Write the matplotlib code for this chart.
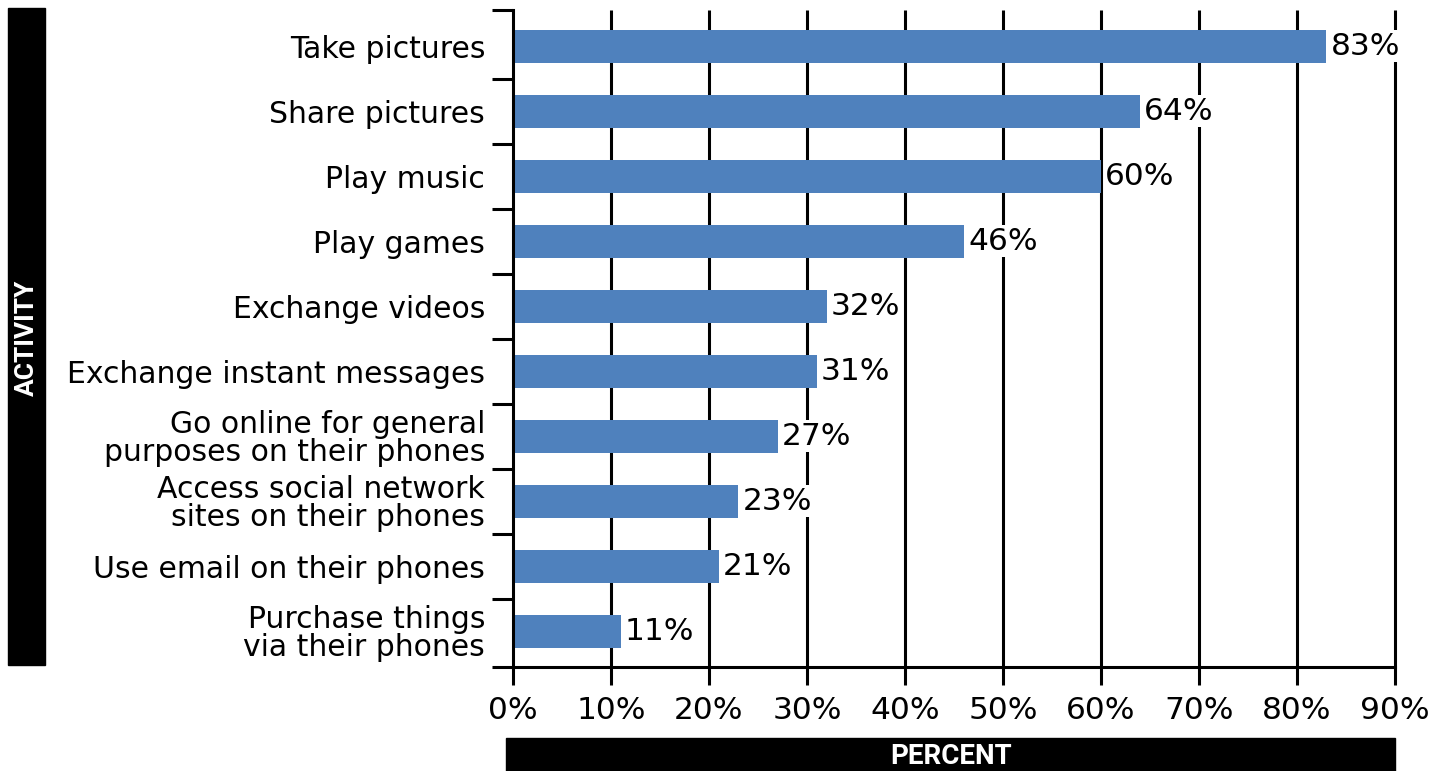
import matplotlib
matplotlib.use("Agg")
import matplotlib.pyplot as plt
from matplotlib.patches import Rectangle
from matplotlib.ticker import FixedLocator
import numpy as np

categories = [
    "Take pictures",
    "Share pictures",
    "Play music",
    "Play games",
    "Exchange videos",
    "Exchange instant messages",
    "Go online for general\npurposes on their phones",
    "Access social network\nsites on their phones",
    "Use email on their phones",
    "Purchase things\nvia their phones",
]
values = [83, 64, 60, 46, 32, 31, 27, 23, 21, 11]
x_ticks = [0, 10, 20, 30, 40, 50, 60, 70, 80, 90]
x_tick_labels = [f"{t}%" for t in x_ticks]

W, H = 1448, 771
fig = plt.figure(figsize=(W / 100, H / 100), dpi=100)
ax = fig.add_axes([513 / W, 1 - 667 / H, (1395 - 513) / W, (667 - 10) / H])

font = "DejaVu Sans"
fs_cat = 21.5
fs_num = 22.5
bar_color = "#4F81BD"
lw = 2.2

n = len(categories)
y = np.arange(n)
y_top, y_bot = -0.56, n - 0.45   # frame runs a little past the outer slots
ax.barh(y, values, height=0.5, color=bar_color, zorder=3)
ax.set_ylim(y_bot, y_top)
ax.set_xlim(0, 90)

# vertical gridlines
for t in x_ticks[1:]:
    ax.plot([t, t], [y_bot, y_top], color="black", lw=lw, zorder=2,
            clip_on=False, solid_capstyle="butt")

for s in ["top", "right"]:
    ax.spines[s].set_visible(False)
for s in ["left", "bottom"]:
    ax.spines[s].set_linewidth(lw)
    ax.spines[s].set_zorder(4)

ax.set_xticks(x_ticks)
ax.set_xticklabels(x_tick_labels, fontsize=fs_num, family=font)
ax.tick_params(axis="x", length=13, width=lw, pad=8)

ax.set_yticks(y)
ax.set_yticklabels(categories, fontsize=fs_cat, family=font, linespacing=0.95)
ax.tick_params(axis="y", which="major", length=0, pad=20)
separators = [y_top] + list(np.arange(0.5, n - 1, 1.0)) + [y_bot]
ax.yaxis.set_minor_locator(FixedLocator(separators))
ax.tick_params(axis="y", which="minor", length=15, width=lw)

for yi, v in zip(y, values):
    ax.annotate(f"{v}%", (v, yi), xytext=(3, 0), textcoords="offset points",
                va="center", ha="left", fontsize=fs_num, family=font, zorder=5,
                bbox=dict(boxstyle="square,pad=0.05", fc="white", ec="none"))

# black title boxes
fig.patches.append(Rectangle((8 / W, 1 - 665 / H), 37 / W, (665 - 8) / H,
                             transform=fig.transFigure, color="black", zorder=0))
fig.text(27 / W, 1 - 338 / H, "ACTIVITY", rotation=90, color="white",
         ha="center", va="center", fontsize=19, fontweight="bold",
         family="Roboto")
fig.patches.append(Rectangle((506 / W, 0), (1395 - 506) / W, 33 / H,
                             transform=fig.transFigure, color="black", zorder=0))
fig.text(951 / W, 15 / H, "PERCENT", color="white",
         ha="center", va="center", fontsize=20, fontweight="bold",
         family="Roboto")

fig.savefig("out.png", dpi=100)
